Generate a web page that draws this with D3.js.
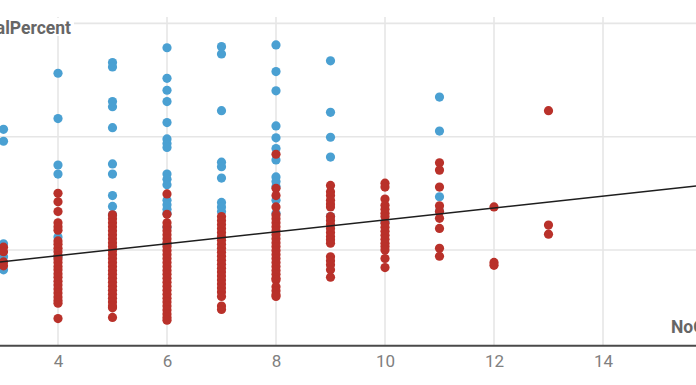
<!DOCTYPE html>
<html>
<head>
<meta charset="utf-8">
<script src="https://cdn.jsdelivr.net/npm/d3@7"></script>
<style>
  html, body { margin: 0; padding: 0; background: #fff; }
  svg { display: block; }
  text { font-family: Roboto, "Noto Sans", sans-serif; }
</style>
</head>
<body>
<svg id="chart" width="696" height="385"></svg>
<script>
// ---- data ----
const xCategories = [3, 4, 5, 6, 7, 8, 9, 10, 11, 12, 13];

const blueValues = [
  [41.3, 39.2, 21.1, 18.8, 16.5],
  [51.2, 43.2, 35.0, 33.4, 22.3, 18.8],
  [53.1, 52.3, 46.2, 45.3, 41.6, 35.2, 33.4, 29.6, 27.7, 26.2],
  [55.7, 50.3, 48.2, 46.2, 42.5, 39.6, 38.8, 38.1, 33.4, 32.5, 31.5, 28.8, 28.0, 27.2, 26.5, 24.0, 21.0],
  [55.9, 54.6, 44.6, 35.5, 34.7, 32.7, 28.4, 27.6, 26.8],
  [56.2, 51.5, 48.1, 41.9, 39.8, 37.9, 35.9, 32.9, 32.1, 31.2, 28.8, 26.5],
  [53.4, 44.3, 39.9, 36.4, 25.9],
  [25.0],
  [47.0, 41.0, 29.4, 26.8],
  [],
  []
];

const redValues = [
  [20.5, 19.7, 17.9, 17.2],
  [30.0, 28.5, 26.8, 24.8, 24.1, 23.5, 21.6, 21.0, 20.3, 19.7, 19.0, 18.4, 17.8, 17.1, 16.5, 15.8, 15.2, 14.5, 13.8, 13.1, 12.4, 11.7, 11.1, 10.6, 7.9],
  [26.2, 25.5, 24.8, 24.1, 23.4, 22.7, 22.0, 21.3, 20.6, 19.9, 19.2, 18.5, 17.8, 17.1, 16.4, 15.7, 15.0, 14.3, 13.6, 12.9, 12.2, 11.5, 10.8, 10.1, 9.8, 8.1],
  [29.9, 26.3, 24.8, 24.1, 23.4, 22.7, 22.0, 21.3, 20.6, 19.9, 19.2, 18.5, 17.8, 17.1, 16.4, 15.7, 15.0, 14.3, 13.6, 12.9, 12.2, 11.5, 10.8, 10.1, 9.4, 8.7, 8.1, 7.6],
  [25.9, 25.2, 24.5, 23.8, 23.1, 22.4, 21.7, 21.0, 20.3, 19.6, 18.9, 18.2, 17.5, 16.8, 16.1, 15.4, 14.7, 14.0, 13.3, 12.6, 11.8, 10.1, 9.5],
  [36.9, 30.9, 29.6, 27.6, 26.2, 25.5, 24.8, 24.1, 23.4, 22.7, 22.0, 21.3, 20.6, 19.9, 19.2, 18.5, 17.8, 17.1, 16.4, 15.7, 15.0, 14.7, 13.5, 12.8, 12.1, 11.8],
  [31.4, 30.3, 29.6, 28.8, 28.1, 27.6, 25.9, 25.2, 24.5, 23.8, 23.1, 22.4, 21.8, 21.2, 18.8, 18.1, 17.4, 16.5, 15.2],
  [31.8, 31.1, 29.0, 27.9, 27.2, 26.5, 25.9, 24.7, 24.0, 23.3, 22.6, 21.9, 21.2, 20.6, 20.0, 18.5, 16.9],
  [35.4, 34.1, 31.1, 27.8, 26.8, 25.6, 23.8, 20.3, 18.9],
  [27.6, 17.8, 17.3],
  [44.6, 24.4, 22.8]
];

const xTickValues = [4, 6, 8, 10, 12, 14];
const yGridValues = [20, 40, 60];
const trendLine = [14.8, 1.05]; // intercept, slope
const yTitle = "TotalPercent";
const xTitle = "NoOfMembers";

// ---- layout ----
const W = 696, H = 385;
const svg = d3.select("#chart");

const x = d3.scaleLinear().domain([4, 14]).range([58, 603]);
const y = d3.scaleLinear().domain([20, 60]).range([250, 23.4]);
const yBottom = 3.1;     // value at the x axis line
const plotTop = 17;

const blue = "#4aa0d2";
const red = "#b9312a";

// gridlines
svg.append("g").selectAll("line").data(yGridValues).join("line")
  .attr("x1", 0).attr("x2", W)
  .attr("y1", d => y(d)).attr("y2", d => y(d))
  .attr("stroke", "#e6e6e6").attr("stroke-width", 1.6);

svg.append("g").selectAll("line").data(xTickValues).join("line")
  .attr("x1", d => x(d)).attr("x2", d => x(d))
  .attr("y1", plotTop).attr("y2", y(yBottom))
  .attr("stroke", "#e6e6e6").attr("stroke-width", 1.6);

// points
function pts(values) {
  const out = [];
  values.forEach((arr, i) => arr.forEach(v => out.push([xCategories[i], v])));
  return out;
}

svg.append("g").selectAll("circle").data(pts(blueValues)).join("circle")
  .attr("cx", d => x(d[0])).attr("cy", d => y(d[1]))
  .attr("r", 4.6).attr("fill", blue);

svg.append("g").selectAll("circle").data(pts(redValues)).join("circle")
  .attr("cx", d => x(d[0])).attr("cy", d => y(d[1]))
  .attr("r", 4.6).attr("fill", red);

// trend line
const xd = [x.invert(0), x.invert(W)];
svg.append("line")
  .attr("x1", x(xd[0])).attr("y1", y(trendLine[0] + trendLine[1] * xd[0]))
  .attr("x2", x(xd[1])).attr("y2", y(trendLine[0] + trendLine[1] * xd[1]))
  .attr("stroke", "#1e1e1e").attr("stroke-width", 1.5);

// x axis
const axis = d3.axisBottom(x).tickValues(xTickValues).tickSize(0).tickPadding(9)
  .tickFormat(d3.format("d"));
const gx = svg.append("g").attr("transform", `translate(0,${y(yBottom)})`).call(axis);
gx.select(".domain").remove();
gx.selectAll("text").attr("font-size", 17).attr("fill", "#808080")
  .style("font-family", "Roboto, sans-serif");
svg.append("line").attr("x1", 0).attr("x2", W)
  .attr("y1", y(yBottom)).attr("y2", y(yBottom))
  .attr("stroke", "#4a4a4a").attr("stroke-width", 2);

// titles
svg.append("rect").attr("x", -10).attr("y", 18).attr("width", 84).attr("height", 18)
  .attr("fill", "#fff");
svg.append("text").attr("x", 71).attr("y", 34).attr("text-anchor", "end")
  .attr("font-size", 17.5).attr("font-weight", "bold").attr("fill", "#666")
  .text(yTitle);
svg.append("text").attr("x", 671).attr("y", 333)
  .attr("font-size", 17.5).attr("font-weight", "bold").attr("fill", "#666")
  .text(xTitle);
</script>
</body>
</html>
